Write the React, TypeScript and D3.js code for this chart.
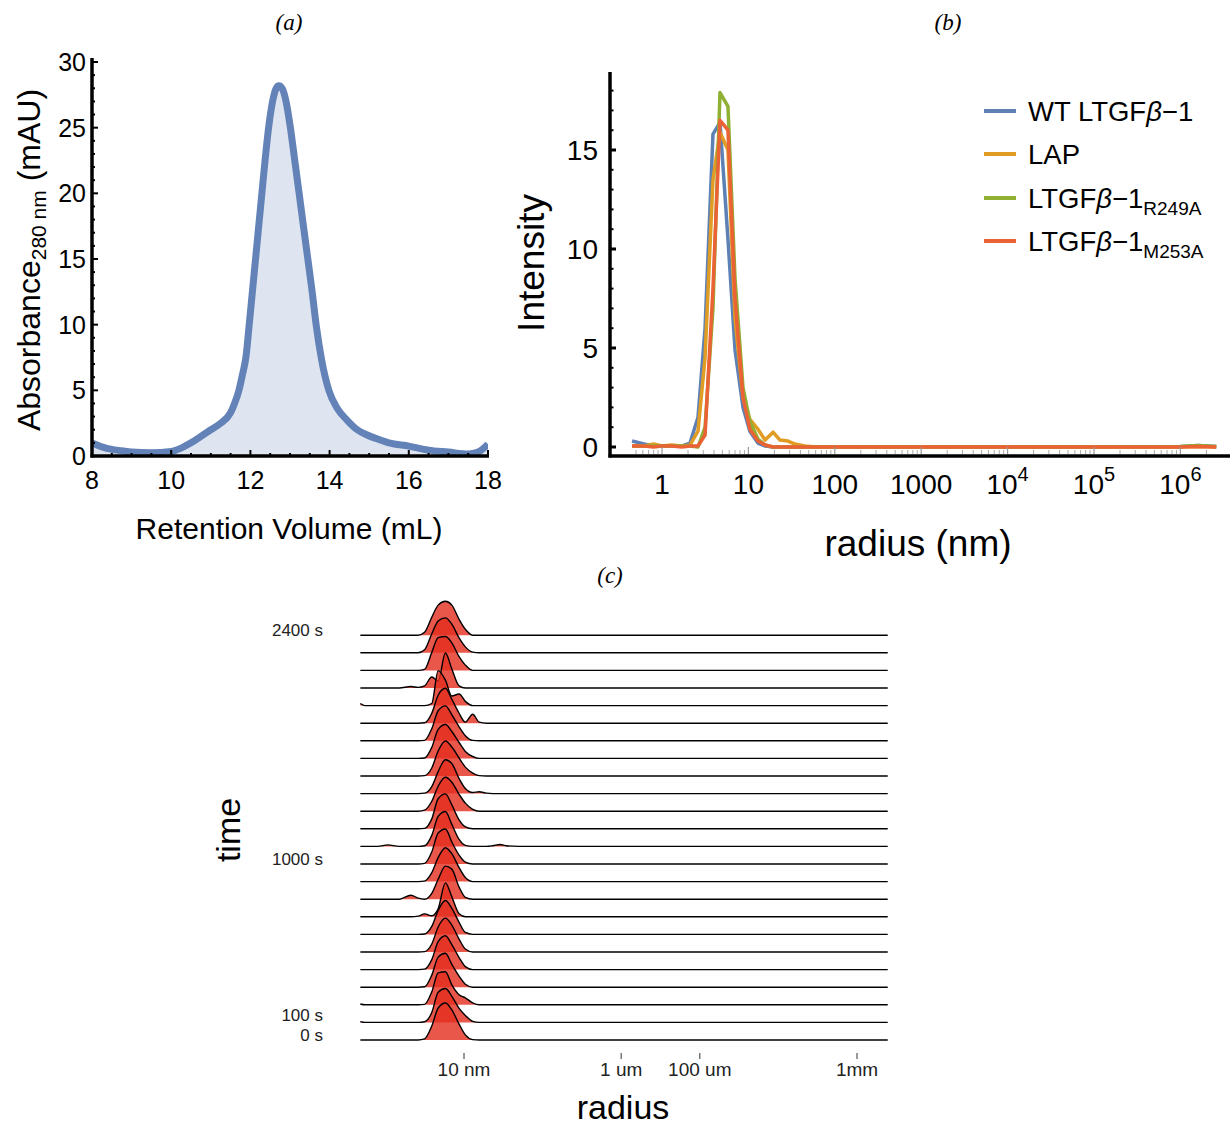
import React from 'react';
import * as d3 from 'd3';

// (a) size-exclusion trace
const SEC_VOLUME = [8.0, 8.25, 8.5, 8.75, 9.0, 9.5, 10.0, 10.25, 10.5, 10.75, 11.0, 11.25, 11.5, 11.6, 11.71, 11.8, 11.89, 11.97, 12.05, 12.13, 12.21, 12.29, 12.37, 12.46, 12.56, 12.65, 12.72, 12.8, 12.9, 13.01, 13.12, 13.23, 13.34, 13.45, 13.56, 13.66, 13.8, 13.98, 14.2, 14.45, 14.7, 14.95, 15.25, 15.5, 16.0, 16.5, 17.0, 17.5, 17.75, 18.0];
const SEC_ABS = [1.0, 0.7, 0.5, 0.4, 0.3, 0.25, 0.35, 0.6, 1.0, 1.5, 2.0, 2.5, 3.3, 4.0, 5.0, 6.2, 7.6, 10, 12.5, 15, 17.5, 20, 22.5, 25, 27, 28, 28.2, 28.0, 27.0, 25, 22.5, 20, 17.5, 15, 12.5, 10, 7.3, 5.0, 3.6, 2.7, 2.0, 1.6, 1.25, 1.0, 0.75, 0.45, 0.3, 0.15, 0.3, 0.9];

// (b) DLS intensity distributions
const DLS_RADIUS = [0.45, 0.62, 0.8, 1.0, 1.3, 1.7, 2.11, 2.61, 3.15, 3.89, 4.69, 5.8, 7.0, 8.66, 10.4, 12.9, 15.6, 19.3, 23.2, 28.7, 34.6, 45, 60, 100, 1000, 1e4, 1e5, 1e6, 1.6e6, 2.6e6];
const DLS_WT = [0.3, 0.15, 0.05, 0.05, 0.05, 0.05, 0.2, 1.5, 6.0, 15.8, 16.4, 10.5, 4.9, 2.0, 0.8, 0.2, 0.05, 0, 0, 0, 0, 0, 0, 0, 0, 0, 0, 0.03, 0.08, 0.03];
const DLS_LAP = [0.05, 0.05, 0.15, 0.05, 0.1, 0.05, 0.1, 0.8, 4.5, 13.5, 15.9, 15.0, 6.5, 2.5, 1.4, 0.9, 0.35, 0.75, 0.35, 0.3, 0.15, 0.05, 0, 0, 0, 0, 0, 0, 0.03, 0];
const DLS_R249A = [0.05, 0.05, 0.05, 0.05, 0.05, 0.05, 0.05, 0, 1.0, 7.0, 17.9, 17.2, 8.5, 3.0, 1.3, 0.4, 0.1, 0, 0, 0, 0, 0, 0, 0, 0, 0, 0, 0.03, 0.08, 0.03];
const DLS_M253A = [0.05, 0.05, 0, 0.05, 0.05, 0, 0.05, 0.05, 0.6, 8.0, 16.5, 16.0, 7.5, 2.5, 0.9, 0.3, 0.1, 0, 0, 0, 0, 0, 0, 0, 0, 0, 0, 0, 0.03, 0];

const DLS_SERIES = [
  { name: 'WT', values: DLS_WT, color: '#5e81b5' },
  { name: 'LAP', values: DLS_LAP, color: '#e19c24' },
  { name: 'R249A', values: DLS_R249A, color: '#8fb032' },
  { name: 'M253A', values: DLS_M253A, color: '#eb6235' },
];
const DLS_X_TICKS = [1, 10, 100, 1000, 1e4, 1e5, 1e6];
const DLS_Y_TICKS = [0, 5, 10, 15];

// (c) ridgeline of distributions over time, row 0 = 0 s
const RIDGE_RADIUS = [0.48, 0.55, 0.8, 1.07, 1.5, 2.11, 2.61, 3.15, 3.89, 4.69, 5.8, 7.0, 8.66, 10.4, 12.9, 15.6, 19.3, 23.2, 28.7, 34.6, 50, 2.46e6];
const RIDGE_ROWS = [
  [0, 0, 0, 0, 0, 0, 0, 0.5, 6.6, 15.1, 17.5, 14.2, 7.5, 2.4, 0.2, 0, 0, 0, 0, 0, 0, 0],
  [0.4, 0, 0, 0, 0, 0, 0, 0.3, 4.7, 14.2, 16, 12.3, 6.6, 3.3, 0.5, 0, 0, 0, 0, 0, 0, 0],
  [0.4, 0, 0, 0, 0, 0, 0, 0.2, 6.1, 15.1, 15.6, 9.4, 4.7, 3.3, 0.9, 0, 0, 0, 0, 0, 0, 0],
  [0, 0, 0, 0, 0, 0, 0, 0.2, 5.7, 14.2, 16, 10.8, 5.2, 1.4, 0, 0, 0, 0, 0, 0, 0, 0],
  [0, 0, 0, 0, 0, 0, 0, 0.2, 4.7, 13.2, 16, 11.8, 5.7, 1.4, 0, 0, 0, 0, 0, 0, 0, 0],
  [0, 0, 0, 0, 0, 0, 0, 0.2, 3.8, 11.8, 16, 12.7, 6.1, 1.4, 0, 0, 0, 0, 0, 0, 0, 0],
  [0, 0, 0, 0, 0, 0, 0, 0.2, 3.8, 11.3, 16, 12.3, 5.7, 0.9, 0, 0, 0, 0, 0, 0, 0, 0],
  [0, 0, 0, 0, 0, 0, 0.3, 1.4, 0.5, 3.8, 16, 9.4, 1.4, 0, 0, 0, 0, 0, 0, 0, 0, 0],
  [0, 0, 0, 0, 0, 1.9, 0.5, 0, 2.8, 9.4, 15.6, 14.2, 5.7, 0.9, 0, 0, 0, 0, 0, 0, 0, 0],
  [0, 0, 0, 0, 0, 0, 0, 0.2, 4.2, 11.3, 16, 13.2, 6.6, 1.9, 0, 0, 0, 0, 0, 0, 0, 0],
  [0, 0, 0, 0, 0, 0, 0, 0.3, 5.7, 14.6, 16.5, 10.4, 4.2, 0.9, 0, 0, 0, 0, 0, 0, 0, 0],
  [0, 0, 0, 0.7, 0, 0, 0, 0.3, 5.2, 14.2, 16.5, 10.4, 3.3, 0.5, 0, 0, 0, 0.3, 0.9, 0.3, 0, 0],
  [0, 0, 0, 0, 0, 0, 0, 0.2, 4.7, 14.2, 16.5, 11.3, 4.2, 0.9, 0, 0, 0, 0, 0, 0, 0, 0],
  [0, 0, 0, 0, 0, 0, 0, 0.5, 4.7, 11.8, 16, 13.7, 8.0, 3.8, 0.9, 0, 0, 0, 0, 0, 0, 0],
  [0, 0, 0, 0, 0, 0, 0, 0.2, 3.3, 10.4, 16, 14.2, 7.1, 2.4, 0.5, 0.9, 0.2, 0, 0, 0, 0, 0],
  [0, 0, 0, 0, 0, 0, 0, 0.2, 3.8, 11.8, 16.5, 13.7, 8.5, 4.2, 1.4, 0.2, 0, 0, 0, 0, 0, 0],
  [0, 0, 0, 0, 0, 0, 0, 0.2, 5.2, 13.7, 16, 12.7, 7.5, 3.3, 0.9, 0, 0, 0, 0, 0, 0, 0],
  [0, 0, 0, 0, 0, 0, 0, 0.2, 5.7, 14.2, 16.5, 12.3, 6.6, 2.4, 0.2, 0, 0, 0, 0, 0, 0, 0],
  [0, 0, 0, 0, 0, 0, 0, 0.2, 4.7, 13.2, 16.5, 11.3, 4.7, 0.5, 4.2, 0.5, 0, 0, 0, 0, 0, 0],
  [1.0, 0, 0, 0, 0, 0, 0, 0, 1.0, 16.5, 12, 4.5, 5.5, 2.0, 0, 0, 0, 0, 0, 0, 0, 0],
  [0, 0, 0, 0, 0, 0.7, 0.3, 1.0, 5.2, 3.3, 16.5, 9.0, 1.0, 0, 0, 0, 0, 0, 0, 0, 0, 0],
  [0, 0, 0, 0, 0, 0, 0, 0.5, 8.5, 15.5, 16, 13, 6.5, 2.5, 0, 0, 0, 0, 0, 0, 0, 0],
  [0, 0, 0, 0, 0, 0, 0, 1.4, 9, 15, 16.5, 13.5, 7, 2.8, 0.3, 0, 0, 0, 0, 0, 0, 0],
  [0, 0, 0, 0, 0, 0, 0, 1.4, 8.5, 14.2, 16, 14.2, 7.5, 2.8, 0, 0, 0, 0, 0, 0, 0, 0],
];
const RIDGE_TIME_TICKS = [
  { row: 0, label: '0 s', dy: 1 },
  { row: 1, label: '100 s', dy: -1 },
  { row: 10, label: '1000 s', dy: 1 },
  { row: 23, label: '2400 s', dy: 1 },
];
const RIDGE_X_TICKS = [
  { r: 10, label: '10 nm' },
  { r: 1000, label: '1 um' },
  { r: 1e4, label: '100 um' },
  { r: 1e6, label: '1mm' },
];

const SANS = '"Liberation Sans", Arial, Helvetica, sans-serif';
const SERIF = '"Liberation Serif", "Times New Roman", serif';

function PanelA() {
  const x = d3.scaleLinear().domain([8, 18]).range([92, 488]);
  const y = d3.scaleLinear().domain([0, 30]).range([456, 62]);
  const pts: [number, number][] = SEC_VOLUME.map((v, i) => [v, SEC_ABS[i]]);
  const line = d3.line<[number, number]>().x(d => x(d[0])).y(d => y(d[1])).curve(d3.curveMonotoneX);
  const area = d3.area<[number, number]>().x(d => x(d[0])).y0(y(0)).y1(d => y(d[1])).curve(d3.curveMonotoneX);
  const xMinor = d3.range(8, 18.01, 0.5);
  const yMinor = d3.range(0, 30.01, 1);

  return (
    <g>
      <defs>
        <clipPath id="clipA">
          <rect x={x(8)} y={40} width={x(18) - x(8)} height={y(0) - 40} />
        </clipPath>
      </defs>
      <g clipPath="url(#clipA)">
        <path d={area(pts) || ''} fill="#dfe5f0" />
        <path d={line(pts) || ''} fill="none" stroke="#6383b8" strokeWidth={7} strokeLinejoin="round" />
      </g>
      {xMinor.map(v => (
        <line key={'xm' + v} x1={x(v)} x2={x(v)} y1={y(0)} y2={y(0) - (v % 2 === 0 ? 6 : 3)} stroke="#000" strokeWidth={2} />
      ))}
      {yMinor.map(v => (
        <line key={'ym' + v} x1={x(8)} x2={x(8) + (v % 5 === 0 ? 6 : 3)} y1={y(v)} y2={y(v)} stroke="#000" strokeWidth={2} />
      ))}
      <line x1={x(8)} x2={x(8)} y1={y(0) + 1.5} y2={58} stroke="#000" strokeWidth={3.5} />
      <line x1={x(8) - 1.5} x2={x(18) + 1} y1={y(0)} y2={y(0)} stroke="#000" strokeWidth={3.5} />
      {d3.range(0, 31, 5).map(v => (
        <text key={'yl' + v} x={86} y={y(v) + 9} textAnchor="end" fontSize={25} fontFamily={SANS}>{v}</text>
      ))}
      {d3.range(8, 19, 2).map(v => (
        <text key={'xl' + v} x={x(v)} y={489} textAnchor="middle" fontSize={25} fontFamily={SANS}>{v}</text>
      ))}
      <text x={289} y={539} textAnchor="middle" fontSize={30} fontFamily={SANS}>Retention Volume (mL)</text>
      <text transform="translate(40,260) rotate(-90)" textAnchor="middle" fontSize={32} fontFamily={SANS}>
        Absorbance<tspan fontSize={21} dy={6}>280 nm</tspan><tspan dy={-6}> (mAU)</tspan>
      </text>
      <text x={289} y={30} textAnchor="middle" fontSize={23} fontStyle="italic" fontFamily={SERIF}>(a)</text>
    </g>
  );
}

function PanelB() {
  const x = d3.scaleLog().domain([1, 1e6]).range([662, 1180.4]);
  const y = d3.scaleLinear().domain([0, 15]).range([447, 150]);
  const line = d3.line<number>().x((_, i) => x(DLS_RADIUS[i])).y(d => y(d));
  const minorX: number[] = [];
  for (let e = -1; e <= 6; e++) {
    for (let k = 2; k <= 9; k++) {
      const r = k * Math.pow(10, e);
      if (r >= 0.45 && r <= 2.7e6) minorX.push(r);
    }
  }
  const minorY = d3.range(0, 19, 1);
  const legendY = [111, 154, 198, 241];

  return (
    <g>
      {DLS_SERIES.map(s => (
        <path key={s.name} d={line(s.values) || ''} fill="none" stroke={s.color} strokeWidth={3.5} strokeLinejoin="round" />
      ))}
      {minorX.map(r => (
        <line key={'mx' + r} x1={x(r)} x2={x(r)} y1={454} y2={450} stroke="#aaa" strokeWidth={1} />
      ))}
      {DLS_X_TICKS.map(r => (
        <line key={'Mx' + r} x1={x(r)} x2={x(r)} y1={454} y2={447} stroke="#999" strokeWidth={1.2} />
      ))}
      {minorY.map(v => (
        <line key={'my' + v} x1={610} x2={610 + (v % 5 === 0 ? 6 : 3.5)} y1={y(v)} y2={y(v)} stroke="#000" strokeWidth={v % 5 === 0 ? 3 : 2} />
      ))}
      <line x1={610} x2={610} y1={72} y2={457.5} stroke="#000" strokeWidth={3.5} />
      <line x1={608.5} x2={1230} y1={456} y2={456} stroke="#000" strokeWidth={3.5} />
      {DLS_Y_TICKS.map(v => (
        <text key={'yl' + v} x={598} y={y(v) + 10} textAnchor="end" fontSize={28} fontFamily={SANS}>{v}</text>
      ))}
      {DLS_X_TICKS.map(r => {
        const e = Math.round(Math.log10(r));
        return (
          <text key={'xl' + r} x={x(r)} y={494} textAnchor="middle" fontSize={28} fontFamily={SANS}>
            {e < 4 ? String(r) : <>10<tspan fontSize={20} dy={-13}>{e}</tspan></>}
          </text>
        );
      })}
      <text x={918} y={556} textAnchor="middle" fontSize={37} fontFamily={SANS}>radius (nm)</text>
      <text transform="translate(544,263) rotate(-90)" textAnchor="middle" fontSize={37} fontFamily={SANS}>Intensity</text>
      {DLS_SERIES.map((s, i) => (
        <g key={'lg' + s.name}>
          <line x1={984} x2={1016} y1={legendY[i]} y2={legendY[i]} stroke={s.color} strokeWidth={4} />
          <text x={1028} y={legendY[i] + 10} fontSize={27.5} fontFamily={SANS}>
            {i === 0 && <>WT LTGF<tspan fontStyle="italic">β</tspan>−1</>}
            {i === 1 && <>LAP</>}
            {i === 2 && <>LTGF<tspan fontStyle="italic">β</tspan>−1<tspan fontSize={19} dy={7}>R249A</tspan></>}
            {i === 3 && <>LTGF<tspan fontStyle="italic">β</tspan>−1<tspan fontSize={19} dy={7}>M253A</tspan></>}
          </text>
        </g>
      ))}
      <text x={948} y={30} textAnchor="middle" fontSize={23} fontStyle="italic" fontFamily={SERIF}>(b)</text>
    </g>
  );
}

function PanelC() {
  const x = d3.scaleLog().domain([10, 1e6]).range([464, 857]);
  const rowY = d3.scaleLinear().domain([0, 23]).range([1040, 635.2]);
  const h = d3.scaleLinear().domain([0, 17]).range([0, 36]);
  const order = d3.range(RIDGE_ROWS.length - 1, -1, -1);

  return (
    <g>
      {order.map(ri => {
        const base = rowY(ri);
        const vals = RIDGE_ROWS[ri];
        const area = d3.area<number>()
          .x((_, i) => x(RIDGE_RADIUS[i]))
          .y0(base)
          .y1(d => base - h(d))
          .curve(d3.curveMonotoneX);
        const line = d3.line<number>()
          .x((_, i) => x(RIDGE_RADIUS[i]))
          .y(d => base - h(d))
          .curve(d3.curveMonotoneX);
        return (
          <g key={'row' + ri}>
            <path d={area(vals) || ''} fill="#e42d1e" fillOpacity={0.8} />
            <path d={line(vals) || ''} fill="none" stroke="#000" strokeWidth={1.4} strokeLinejoin="round" />
          </g>
        );
      })}
      {RIDGE_X_TICKS.map(t => (
        <g key={'xt' + t.label}>
          <line x1={x(t.r)} x2={x(t.r)} y1={1053} y2={1059} stroke="#555" strokeWidth={1.2} />
          <text x={x(t.r)} y={1076} textAnchor="middle" fontSize={19} fontFamily={SANS} fill="#222">{t.label}</text>
        </g>
      ))}
      {RIDGE_TIME_TICKS.map(t => (
        <text key={'yt' + t.row} x={323} y={rowY(t.row) + t.dy} textAnchor="end" fontSize={17} fontFamily={SANS} fill="#222">{t.label}</text>
      ))}
      <text x={623} y={1119} textAnchor="middle" fontSize={34} fontFamily={SANS}>radius</text>
      <text transform="translate(240,830) rotate(-90)" textAnchor="middle" fontSize={34} fontFamily={SANS}>time</text>
      <text x={610} y={583} textAnchor="middle" fontSize={23} fontStyle="italic" fontFamily={SERIF}>(c)</text>
    </g>
  );
}

export default function App() {
  return (
    <svg width={1230} height={1127} style={{ position: 'absolute', left: 0, top: 0, background: '#fff' }}>
      <rect width={1230} height={1127} fill="#fff" />
      <PanelA />
      <PanelB />
      <PanelC />
    </svg>
  );
}
